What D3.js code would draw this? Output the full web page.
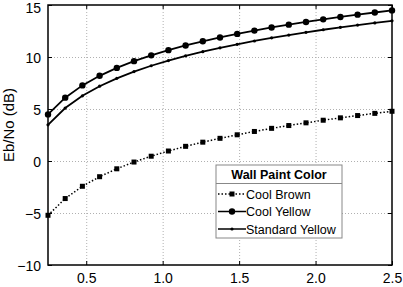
<!DOCTYPE html>
<html>
<head>
<meta charset="utf-8">
<script src="https://cdn.jsdelivr.net/npm/d3@7"></script>
<style>
  body { margin: 0; background: #fff; }
  text { font-family: "Liberation Sans", Arial, sans-serif; }
</style>
</head>
<body>
<div id="chart"></div>
<script>
// data
const distance = [0.25, 0.3625, 0.475, 0.5875, 0.7, 0.8125, 0.925, 1.0375, 1.15, 1.2625, 1.375,
  1.4875, 1.6, 1.7125, 1.825, 1.9375, 2.05, 2.1625, 2.275, 2.3875, 2.5]
const coolBrown = [-5.22, -3.61, -2.43, -1.51, -0.75, -0.1, 0.46, 0.96, 1.41, 1.81, 2.18,
  2.52, 2.84, 3.14, 3.41, 3.67, 3.92, 4.15, 4.37, 4.58, 4.78]
const coolYellow = [4.48, 6.09, 7.27, 8.19, 8.95, 9.6, 10.16, 10.66, 11.11, 11.51, 11.88,
  12.22, 12.54, 12.84, 13.11, 13.37, 13.62, 13.85, 14.07, 14.28, 14.48]
const standardYellow = [3.48, 5.09, 6.27, 7.19, 7.95, 8.6, 9.16, 9.66, 10.11, 10.51, 10.88,
  11.22, 11.54, 11.84, 12.11, 12.37, 12.62, 12.85, 13.07, 13.28, 13.48]
const xTicks = [0.5, 1, 1.5, 2, 2.5]
const yTicks = [-10, -5, 0, 5, 10, 15]
const seriesNames = ['Cool Brown', 'Cool Yellow', 'Standard Yellow']

const margin = { top: 5, left: 48, right: 11, bottom: 22 }
const width = 403 - margin.left - margin.right
const height = 287 - margin.top - margin.bottom

const svg = d3
  .select('#chart')
  .append('svg')
  .attr('width', 403)
  .attr('height', 287)
  .append('g')
  .attr('transform', 'translate(' + margin.left + ',' + margin.top + ')')

const xPositionScale = d3.scaleLinear().domain([0.25, 2.5]).range([0, width])
const yPositionScale = d3.scaleLinear().domain([-10, 15]).range([height, 0])

// dotted grid
svg
  .append('g')
  .attr('class', 'grid')
  .attr('transform', 'translate(0,' + height + ')')
  .call(d3.axisBottom(xPositionScale).tickValues(xTicks.slice(0, -1)).tickSize(-height).tickFormat(''))
svg
  .append('g')
  .attr('class', 'grid')
  .call(d3.axisLeft(yPositionScale).tickValues(yTicks.slice(1, -1)).tickSize(-width).tickFormat(''))
svg.selectAll('.grid path').remove()
svg
  .selectAll('.grid line')
  .attr('stroke', '#b0b0b0')
  .attr('stroke-width', 1)
  .attr('stroke-dasharray', '1,2')

const series = [
  { name: seriesNames[0], values: coolBrown, dash: '1.5,2', marker: 'square' },
  { name: seriesNames[1], values: coolYellow, dash: null, marker: 'circle' },
  { name: seriesNames[2], values: standardYellow, dash: null, marker: 'dot' }
]

const line = d3
  .line()
  .x(d => xPositionScale(d.x))
  .y(d => yPositionScale(d.y))

function drawMarker(g, type, x, y) {
  if (type === 'square') {
    g.append('rect').attr('x', x - 2.5).attr('y', y - 2.5).attr('width', 5).attr('height', 5).attr('fill', '#000')
  } else if (type === 'circle') {
    g.append('circle').attr('cx', x).attr('cy', y).attr('r', 3.2).attr('fill', '#000')
  } else {
    g.append('circle').attr('cx', x).attr('cy', y).attr('r', 1.6).attr('fill', '#000')
  }
}

series.forEach(s => {
  const pts = distance.map((x, i) => ({ x: x, y: s.values[i] }))
  svg
    .append('path')
    .datum(pts)
    .attr('d', line)
    .attr('fill', 'none')
    .attr('stroke', '#000')
    .attr('stroke-width', s.dash ? 1.5 : 1.8)
    .attr('stroke-dasharray', s.dash)
  const mg = svg.append('g')
  pts.forEach(p => drawMarker(mg, s.marker, xPositionScale(p.x), yPositionScale(p.y)))
})

// axes: ticks inside, box
const xAxis = d3.axisBottom(xPositionScale).tickValues(xTicks).tickSize(-4).tickPadding(8)
const yAxis = d3.axisLeft(yPositionScale).tickValues(yTicks).tickSize(-4).tickPadding(7)
svg
  .append('g')
  .attr('class', 'axis x-axis')
  .attr('transform', 'translate(0,' + height + ')')
  .call(xAxis)
svg
  .append('g')
  .attr('class', 'axis y-axis')
  .call(yAxis)
svg
  .append('g')
  .attr('class', 'axis')
  .call(d3.axisTop(xPositionScale).tickValues(xTicks).tickSize(-4).tickFormat(''))
svg
  .append('g')
  .attr('class', 'axis')
  .attr('transform', 'translate(' + width + ',0)')
  .call(d3.axisRight(yPositionScale).tickValues(yTicks).tickSize(-4).tickFormat(''))
svg.selectAll('.axis path').remove()
svg.selectAll('.axis line').attr('stroke', '#000')
svg
  .selectAll('.axis text')
  .attr('font-size', 14)
  .attr('fill', '#000')
  .attr('font-family', '"Liberation Sans", Arial, sans-serif')
svg
  .select('.y-axis')
  .selectAll('text')
  .attr('dy', d => (d === 15 ? '0.56em' : '0.38em'))

svg
  .append('rect')
  .attr('width', width)
  .attr('height', height)
  .attr('fill', 'none')
  .attr('stroke', '#000')
  .attr('stroke-width', 1.5)

svg
  .append('text')
  .text('Eb/No (dB)')
  .attr('transform', 'translate(-34,120) rotate(-90)')
  .attr('text-anchor', 'middle')
  .attr('font-size', 15)

// legend
const legend = svg.append('g').attr('transform', 'translate(168,160)')
legend
  .append('rect')
  .attr('width', 126)
  .attr('height', 73)
  .attr('fill', '#fff')
  .attr('stroke', '#888')
legend
  .append('text')
  .text('Wall Paint Color')
  .attr('x', 63)
  .attr('y', 14)
  .attr('text-anchor', 'middle')
  .attr('font-size', 12.5)
  .attr('font-weight', 'bold')
legend
  .append('line')
  .attr('x1', 0)
  .attr('x2', 126)
  .attr('y1', 18.5)
  .attr('y2', 18.5)
  .attr('stroke', '#888')
series.forEach((s, i) => {
  const y = 29 + i * 17.5
  legend
    .append('line')
    .attr('x1', 2)
    .attr('x2', 30)
    .attr('y1', y)
    .attr('y2', y)
    .attr('stroke', '#000')
    .attr('stroke-width', s.dash ? 1.3 : 1.5)
    .attr('stroke-dasharray', s.dash)
  drawMarker(legend, s.marker, 16, y)
  legend
    .append('text')
    .text(s.name)
    .attr('x', 30)
    .attr('y', y + 4.5)
    .attr('font-size', 12.5)
})
</script>
</body>
</html>
